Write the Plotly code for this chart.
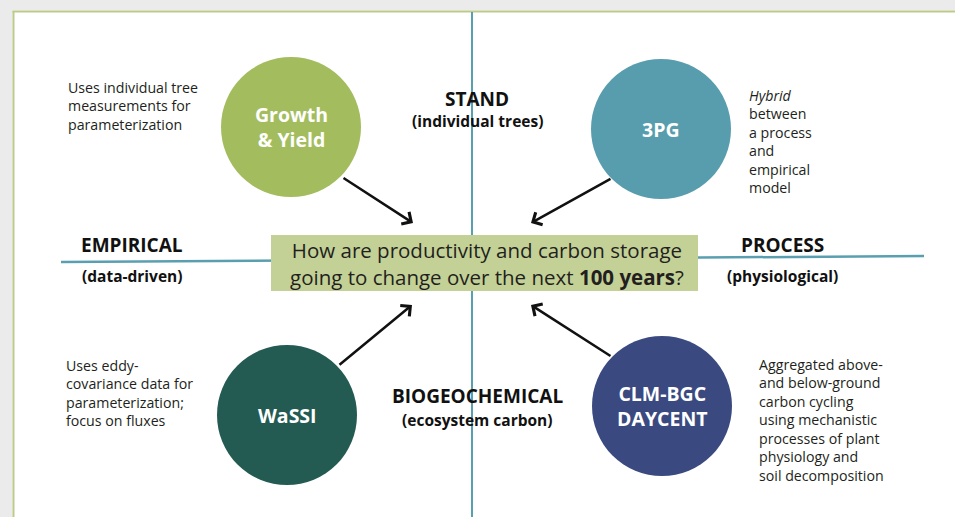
import plotly.graph_objects as go

W, H = 955, 517

# model circles
models = ["Growth<br>& Yield", "3PG", "WaSSI", "CLM-BGC<br>DAYCENT"]
model_x = [291, 661, 287, 662]
model_y = [127, 129, 415, 406]
model_r = [70, 70, 70, 70]
model_colors = ["#a3bd5e", "#589dad", "#235b53", "#3a4a80"]

# arrows from each circle to the question box
arrow_x0 = [342, 612, 338, 612]
arrow_y0 = [177, 178, 366, 357]
arrow_x1 = [413, 531, 412, 531]
arrow_y1 = [223, 223, 305, 305]

# quadrant axis labels
axis_labels = ["STAND", "EMPIRICAL", "PROCESS", "BIOGEOCHEMICAL"]
axis_sublabels = ["(individual trees)", "(data-driven)", "(physiological)", "(ecosystem carbon)"]
label_x = [477, 132, 782, 477]
label_y = [99, 245, 245, 396]
sublabel_y = [121, 276, 276, 420]

# side notes, one list of lines per model
notes = [
    ["Uses individual tree", "measurements for", "parameterization"],
    ["<i>Hybrid</i>", "between", "a process", "and", "empirical", "model"],
    ["Uses eddy-", "covariance data for", "parameterization;", "focus on fluxes"],
    ["Aggregated above-", "and below-ground", "carbon cycling", "using mechanistic",
     "processes of plant", "physiology and", "soil decomposition"],
]
note_x = [66, 747, 64, 757]
note_top = [76, 84, 354, 353]

question = ("How are productivity and carbon storage<br>"
            "going to change over the next <b>100 years</b>?")

TEAL = "#5a9fb0"
FONT = "Open Sans"

fig = go.Figure()
fig.add_trace(go.Scatter(x=[0, W], y=[0, H], mode="markers",
                         marker=dict(opacity=0), hoverinfo="skip", showlegend=False))

shapes = []
# page shadow + frame
shapes.append(dict(type="rect", x0=0, x1=W, y0=0, y1=10.5, line_width=0, fillcolor="#ebebeb", layer="below"))
shapes.append(dict(type="rect", x0=0, x1=12.5, y0=0, y1=H, line_width=0, fillcolor="#ebebeb", layer="below"))
shapes.append(dict(type="line", x0=12.5, x1=W, y0=11.5, y1=11.5, line=dict(color="#bccb8a", width=2), layer="below"))
shapes.append(dict(type="line", x0=13.5, x1=13.5, y0=11, y1=H, line=dict(color="#bccb8a", width=2), layer="below"))

# cross lines
shapes.append(dict(type="line", x0=472, x1=472, y0=12, y1=H, line=dict(color=TEAL, width=2), layer="below"))
shapes.append(dict(type="line", x0=61, x1=924, y0=262, y1=256, line=dict(color=TEAL, width=2.5), layer="below"))

# question box
shapes.append(dict(type="rect", x0=271, x1=698, y0=235, y1=291, line_width=0, fillcolor="#c3d196", layer="above"))

for cx, cy, r, c in zip(model_x, model_y, model_r, model_colors):
    shapes.append(dict(type="circle", x0=cx - r, x1=cx + r, y0=cy - r, y1=cy + r,
                       line_width=0, fillcolor=c, layer="above"))

annotations = []
for name, cx, cy in zip(models, model_x, model_y):
    annotations.append(dict(x=cx, y=cy, text="<b>" + name + "</b>", showarrow=False,
                            font=dict(family=FONT, size=19.5, color="white")))

for x0, y0, x1, y1 in zip(arrow_x0, arrow_y0, arrow_x1, arrow_y1):
    annotations.append(dict(x=x1, y=y1, ax=x0, ay=y0, axref="x", ayref="y", text="",
                            showarrow=True, arrowhead=4, arrowsize=1.1, arrowwidth=2.5,
                            arrowcolor="#111111", standoff=0))

for lab, sub, lx, ly, sy in zip(axis_labels, axis_sublabels, label_x, label_y, sublabel_y):
    annotations.append(dict(x=lx, y=ly, text="<b>" + lab + "</b>", showarrow=False,
                            font=dict(family=FONT, size=19, color="#111111")))
    annotations.append(dict(x=lx, y=sy, text="<b>" + sub + "</b>", showarrow=False,
                            font=dict(family=FONT, size=15.5, color="#111111")))

for lines, nx, ny in zip(notes, note_x, note_top):
    annotations.append(dict(x=nx, y=ny, text="<br>".join(lines), showarrow=False,
                            xanchor="left", yanchor="top", align="left",
                            font=dict(family=FONT, size=14.2, color="#231f20")))

annotations.append(dict(x=487, y=263, text=question, showarrow=False,
                        font=dict(family=FONT, size=20.5, color="#231f20")))

fig.update_layout(
    width=W, height=H, margin=dict(l=0, r=0, t=0, b=0),
    plot_bgcolor="white", paper_bgcolor="white",
    xaxis=dict(range=[0, W], visible=False, fixedrange=True),
    yaxis=dict(range=[H, 0], visible=False, fixedrange=True),
    shapes=shapes, annotations=annotations, showlegend=False,
)

fig.write_html("out.html", config={"displayModeBar": False},
               post_script="document.body.style.margin='0';document.body.style.overflow='hidden';")
